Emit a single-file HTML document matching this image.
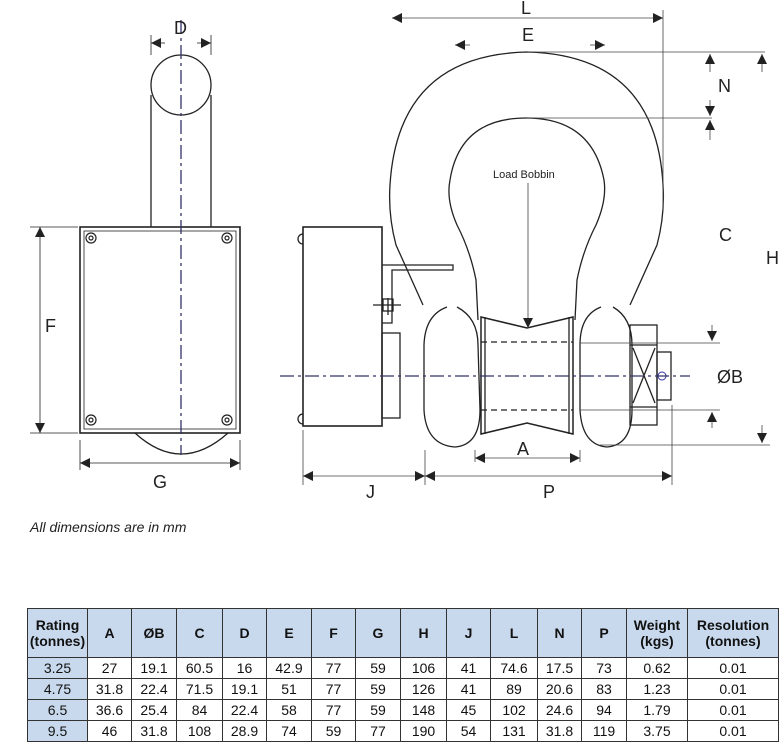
<!DOCTYPE html>
<html><head><meta charset="utf-8"><style>
body{margin:0;background:#fff;width:781px;height:745px;overflow:hidden;position:relative;font-family:"Liberation Sans",sans-serif}
svg{position:absolute;left:0;top:0}
table{position:absolute;left:27px;top:608px;border-collapse:collapse;font-family:"Liberation Sans Narrow","Liberation Sans",sans-serif;font-size:14px;color:#111}
td{border:1px solid #333;text-align:center;padding:0;height:20px;line-height:20px}
tr.h td{background:#c9d9ed;font-weight:bold;height:48px;line-height:16px;font-size:14px}
td.r{background:#c9d9ed}
</style></head><body>
<svg width="781" height="600" viewBox="0 0 781 600" font-family="Liberation Sans, sans-serif" fill="none" stroke="#222" stroke-width="1.3">
<defs><marker id="a" viewBox="0 0 10 10" refX="10" refY="5" markerWidth="12" markerHeight="10" markerUnits="userSpaceOnUse" orient="auto-start-reverse"><path d="M0,0 L10,5 L0,10 z" fill="#222" stroke="none"/></marker></defs>
<circle cx="181" cy="85" r="30"/>
<line x1="151" y1="95" x2="151" y2="227"/><line x1="211" y1="95" x2="211" y2="227"/>
<rect x="80" y="227" width="160" height="206" stroke-width="1.6"/>
<rect x="84" y="231" width="152" height="198" stroke-width="0.8"/>
<g stroke-width="1.2"><circle cx="91" cy="238" r="5"/><circle cx="91" cy="238" r="2"/><circle cx="227" cy="238" r="5"/><circle cx="227" cy="238" r="2"/><circle cx="91" cy="420" r="5"/><circle cx="91" cy="420" r="2"/><circle cx="227" cy="420" r="5"/><circle cx="227" cy="420" r="2"/></g>
<path d="M135,433 Q181,475 228,433"/>
<line x1="181" y1="20" x2="181" y2="455" stroke="#336" stroke-dasharray="14,4,3,4"/>
<line x1="151" y1="35" x2="151" y2="55" stroke-width="0.8"/><line x1="211" y1="35" x2="211" y2="55" stroke-width="0.8"/>
<line x1="165" y1="43" x2="151" y2="43" marker-end="url(#a)" stroke-width="0.8"/><line x1="197" y1="43" x2="211" y2="43" marker-end="url(#a)" stroke-width="0.8"/>
<line x1="40" y1="227" x2="40" y2="433" marker-start="url(#a)" marker-end="url(#a)" stroke-width="0.8"/>
<line x1="30" y1="227" x2="78" y2="227" stroke-width="0.8"/><line x1="30" y1="433" x2="78" y2="433" stroke-width="0.8"/>
<line x1="80" y1="440" x2="80" y2="470" stroke-width="0.8"/><line x1="240" y1="440" x2="240" y2="470" stroke-width="0.8"/>
<line x1="80" y1="463" x2="240" y2="463" marker-start="url(#a)" marker-end="url(#a)" stroke-width="0.8"/>
<rect x="303" y="227" width="79" height="199" stroke-width="1.6"/>
<path d="M303,234 a5,5 0 0 0 0,10"/><path d="M303,414 a5,5 0 0 0 0,10"/>
<rect x="382" y="333" width="18" height="85"/>
<path d="M382,265 L453,265 L453,270 L392,270 L392,323 L382,323"/>
<path d="M373,305 L401,305 M388,298 L388,315"/><rect x="383" y="299" width="10" height="12"/>
<path d="M423,305 L396,245 Q388,215 390,185 Q398,55 527,52 Q656,55 663,185 Q665,215 657,245 L630,305"/>
<path d="M478,320 L476,280 Q470,250 457,225 Q446,200 450,180 Q460,118 526,118 Q592,118 604,180 Q607,200 596,225 Q583,250 577,280 L575,320"/>
<path d="M447,307 Q425,315 424,345 L424,410 Q426,445 455,447 Q480,445 480,410 L478,345 Q478,318 457,307"/>
<path d="M601,307 Q580,315 580,345 L580,410 Q582,445 607,447 Q632,445 632,410 L632,345 Q632,318 613,307"/>
<path d="M481,317 L527,328 L573,317 L573,434 L527,423 L481,434 Z" stroke-width="1.5"/>
<line x1="485" y1="317" x2="485" y2="434"/><line x1="569" y1="317" x2="569" y2="434"/>
<line x1="481" y1="342" x2="573" y2="342" stroke-dasharray="6,4"/><line x1="481" y1="410" x2="573" y2="410" stroke-dasharray="6,4"/>
<rect x="630" y="325" width="27" height="100"/><line x1="630" y1="345" x2="657" y2="345"/><line x1="630" y1="407" x2="657" y2="407"/>
<path d="M633,348 L655,403 M655,348 L633,403"/>
<rect x="657" y="352" width="14" height="48"/>
<circle cx="662" cy="376" r="4" stroke="#33a" stroke-width="1"/>
<line x1="280" y1="376" x2="690" y2="376" stroke="#336" stroke-dasharray="14,4,3,4"/>
<g stroke-width="0.8" stroke="#444">
<line x1="392" y1="18" x2="663" y2="18" marker-start="url(#a)" marker-end="url(#a)"/>
<line x1="663" y1="10" x2="663" y2="210"/>
<line x1="470" y1="45" x2="455" y2="45" marker-end="url(#a)"/><line x1="590" y1="45" x2="605" y2="45" marker-end="url(#a)"/>
<line x1="527" y1="52" x2="765" y2="52"/><line x1="527" y1="118" x2="712" y2="118"/>
<line x1="710" y1="72" x2="710" y2="54" marker-end="url(#a)"/><line x1="710" y1="100" x2="710" y2="116" marker-end="url(#a)"/>
<line x1="710" y1="140" x2="710" y2="120" marker-end="url(#a)"/>
<line x1="762" y1="72" x2="762" y2="54" marker-end="url(#a)"/>
<line x1="528" y1="183" x2="528" y2="328" marker-end="url(#a)"/>
<line x1="580" y1="343" x2="720" y2="343"/><line x1="580" y1="410" x2="720" y2="410"/>
<line x1="712" y1="325" x2="712" y2="341" marker-end="url(#a)"/><line x1="712" y1="428" x2="712" y2="412" marker-end="url(#a)"/>
<line x1="600" y1="445" x2="770" y2="445"/>
<line x1="762" y1="425" x2="762" y2="443" marker-end="url(#a)"/>
<line x1="303" y1="430" x2="303" y2="485"/><line x1="425" y1="450" x2="425" y2="485"/><line x1="672" y1="405" x2="672" y2="485"/><line x1="580" y1="450" x2="580" y2="462"/><line x1="475" y1="450" x2="475" y2="462"/>
<line x1="303" y1="476" x2="425" y2="476" marker-start="url(#a)" marker-end="url(#a)"/>
<line x1="425" y1="476" x2="672" y2="476" marker-start="url(#a)" marker-end="url(#a)"/>
<line x1="475" y1="458" x2="580" y2="458" marker-start="url(#a)" marker-end="url(#a)"/>
</g>
<g fill="#222" stroke="none" font-size="18">
<text x="174" y="34">D</text><text x="45" y="332">F</text><text x="153" y="488">G</text>
<text x="521" y="14">L</text><text x="522" y="41">E</text><text x="718" y="92">N</text>
<text x="719" y="241">C</text><text x="766" y="264">H</text><text x="717" y="383">ØB</text>
<text x="517" y="455">A</text><text x="366" y="498">J</text><text x="543" y="498">P</text>
<text x="493" y="178" font-size="11">Load Bobbin</text>
<text x="30" y="532" font-size="14" font-style="italic">All dimensions are in mm</text>
</g>
</svg>
<table>
<colgroup><col style="width:60px"><col style="width:44px"><col style="width:45px"><col style="width:46px"><col style="width:44px"><col style="width:45px"><col style="width:44px"><col style="width:45px"><col style="width:46px"><col style="width:44px"><col style="width:47px"><col style="width:44px"><col style="width:45px"><col style="width:61px"><col style="width:91px"></colgroup>
<tr class="h"><td>Rating<br>(tonnes)</td><td>A</td><td>ØB</td><td>C</td><td>D</td><td>E</td><td>F</td><td>G</td><td>H</td><td>J</td><td>L</td><td>N</td><td>P</td><td>Weight<br>(kgs)</td><td>Resolution<br>(tonnes)</td></tr>
<tr><td class="r">3.25</td><td>27</td><td>19.1</td><td>60.5</td><td>16</td><td>42.9</td><td>77</td><td>59</td><td>106</td><td>41</td><td>74.6</td><td>17.5</td><td>73</td><td>0.62</td><td>0.01</td></tr>
<tr><td class="r">4.75</td><td>31.8</td><td>22.4</td><td>71.5</td><td>19.1</td><td>51</td><td>77</td><td>59</td><td>126</td><td>41</td><td>89</td><td>20.6</td><td>83</td><td>1.23</td><td>0.01</td></tr>
<tr><td class="r">6.5</td><td>36.6</td><td>25.4</td><td>84</td><td>22.4</td><td>58</td><td>77</td><td>59</td><td>148</td><td>45</td><td>102</td><td>24.6</td><td>94</td><td>1.79</td><td>0.01</td></tr>
<tr><td class="r">9.5</td><td>46</td><td>31.8</td><td>108</td><td>28.9</td><td>74</td><td>59</td><td>77</td><td>190</td><td>54</td><td>131</td><td>31.8</td><td>119</td><td>3.75</td><td>0.01</td></tr>
</table>
</body></html>
